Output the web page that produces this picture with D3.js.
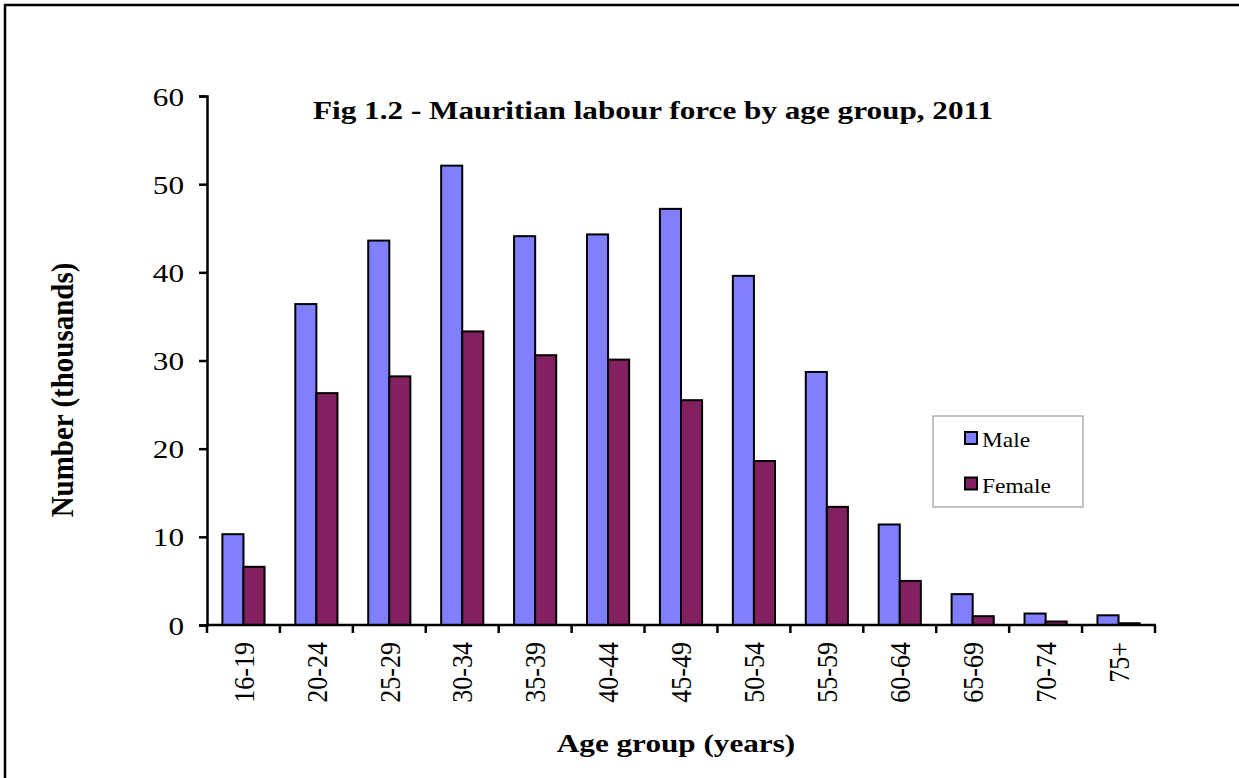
<!DOCTYPE html>
<html>
<head>
<meta charset="utf-8">
<style>
body { margin: 0; background: #fff; }
text { font-family: "Liberation Serif", "Times New Roman", serif; fill: #000; }
.axis path, .axis line { stroke: #000; stroke-width: 2.5px; }
.axis text { font-size: 26px; font-family: "Liberation Serif", serif; }
</style>
</head>
<body>
<script src="https://cdn.jsdelivr.net/npm/d3@7"></script>
<script>

var ageGroups = ["16-19", "20-24", "25-29", "30-34", "35-39", "40-44", "45-49",
                 "50-54", "55-59", "60-64", "65-69", "70-74", "75+"];
var male   = [10.3, 36.4, 43.6, 52.1, 44.1, 44.3, 47.2, 39.6, 28.7, 11.4, 3.5, 1.3, 1.1];
var female = [6.6, 26.3, 28.2, 33.3, 30.6, 30.1, 25.5, 18.6, 13.4, 5.0, 1.0, 0.4, 0.2];
var seriesNames = ["Male", "Female"];
var yTicks = [0, 10, 20, 30, 40, 50, 60];

var colors = ["#8080ff", "#822060"];

var width = 1239, height = 778;
var plotLeft = 207, plotRight = 1155, plotTop = 96, plotBottom = 625;
var stretch = 1.2;   // the reference text is drawn a bit wide

var svg = d3.select("body").append("svg")
    .attr("width", width)
    .attr("height", height);

// outer frame (only top + left edges show in the window)
svg.append("rect")
    .attr("x", 5).attr("y", 5)
    .attr("width", 1300).attr("height", 900)
    .attr("fill", "none")
    .attr("stroke", "#000")
    .attr("stroke-width", 2.5);

var x = d3.scaleBand()
    .domain(ageGroups)
    .range([plotLeft, plotRight])
    .paddingInner(0)
    .paddingOuter(0);

var x1 = d3.scaleBand()
    .domain(seriesNames)
    .range([0, x.bandwidth()])
    .paddingInner(0)
    .paddingOuter(0.73);

var y = d3.scaleLinear()
    .domain([0, 60])
    .range([plotBottom, plotTop]);

var rows = ageGroups.map(function(g, i) {
  return { group: g, values: [male[i], female[i]] };
});

// bars
var groups = svg.append("g")
  .selectAll("g")
  .data(rows)
  .enter().append("g")
  .attr("transform", function(d) { return "translate(" + x(d.group) + ",0)"; });

groups.selectAll("rect")
  .data(function(d) { return d.values.map(function(v, j) { return { name: seriesNames[j], value: v, j: j }; }); })
  .enter().append("rect")
  .attr("x", function(d) { return x1(d.name); })
  .attr("y", function(d) { return y(d.value); })
  .attr("width", x1.bandwidth())
  .attr("height", function(d) { return plotBottom - y(d.value); })
  .attr("fill", function(d) { return colors[d.j]; })
  .attr("stroke", "#000")
  .attr("stroke-width", 2);

// y axis
var yAxis = svg.append("g")
    .attr("class", "axis")
    .attr("transform", "translate(" + plotLeft + ",0)")
    .call(d3.axisLeft(y).tickValues(yTicks).tickSize(8).tickSizeOuter(8));

yAxis.selectAll(".tick text")
    .attr("x", 0)
    .attr("dy", "0.35em")
    .attr("transform", "translate(-23,0) scale(" + stretch + ",1)");

// x axis: ticks on category boundaries
var xAxis = svg.append("g")
    .attr("class", "axis")
    .attr("transform", "translate(0," + plotBottom + ")");

xAxis.append("line")
    .attr("x1", plotLeft).attr("x2", plotRight + 1)
    .attr("y1", 0).attr("y2", 0);

xAxis.selectAll("line.tick")
  .data(ageGroups.concat(["end"]))
  .enter().append("line")
  .attr("class", "tick")
  .attr("x1", function(d, i) { return plotLeft + i * x.bandwidth(); })
  .attr("x2", function(d, i) { return plotLeft + i * x.bandwidth(); })
  .attr("y1", 0).attr("y2", 8);

xAxis.selectAll("text")
  .data(ageGroups)
  .enter().append("text")
  .attr("transform", function(d) {
    return "translate(" + (x(d) + x.bandwidth() / 2) + ",17) scale(1.12,1) rotate(-90)";
  })
  .attr("text-anchor", "end")
  .attr("dy", "0.35em")
  .style("font-size", "26px")
  .text(function(d) { return d; });

// title
svg.append("text")
    .attr("transform", "translate(313,119) scale(" + stretch + ",1)")
    .style("font-size", "26px")
    .style("font-weight", "bold")
    .text("Fig 1.2 - Mauritian labour force by age group, 2011");

// axis titles
svg.append("text")
    .attr("transform", "translate(73,390) scale(1.12,1) rotate(-90)")
    .attr("text-anchor", "middle")
    .style("font-size", "29px")
    .style("font-weight", "bold")
    .text("Number (thousands)");

svg.append("text")
    .attr("transform", "translate(676,752) scale(" + stretch + ",1)")
    .attr("text-anchor", "middle")
    .style("font-size", "26px")
    .style("font-weight", "bold")
    .text("Age group (years)");

// legend
var legend = svg.append("g").attr("transform", "translate(933,416)");
legend.append("rect")
    .attr("width", 150).attr("height", 91)
    .attr("fill", "#fff")
    .attr("stroke", "#888")
    .attr("stroke-width", 1);

var items = legend.selectAll("g.item")
  .data(seriesNames)
  .enter().append("g")
  .attr("class", "item")
  .attr("transform", function(d, i) { return "translate(32," + (16 + i * 45.5) + ")"; });

items.append("rect")
  .attr("width", 12).attr("height", 12)
  .attr("fill", function(d, i) { return colors[i]; })
  .attr("stroke", "#000")
  .attr("stroke-width", 2);

items.append("text")
  .attr("transform", "translate(17,15) scale(1.17,1)")
  .style("font-size", "20px")
  .text(function(d) { return d; });

</script>
</body>
</html>
